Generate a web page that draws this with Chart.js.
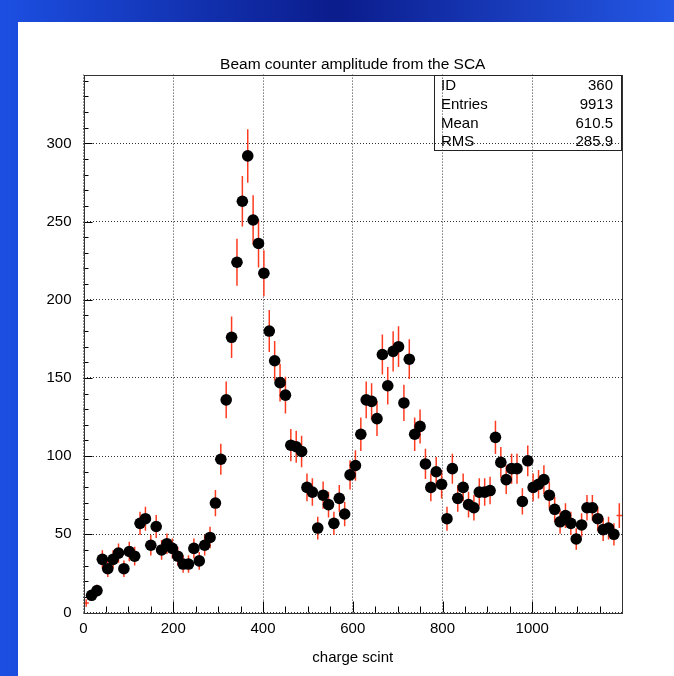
<!DOCTYPE html>
<html>
<head>
<meta charset="utf-8">
<script src="https://cdn.jsdelivr.net/npm/chart.js@4.4.1/dist/chart.umd.min.js"></script>
<style>
html,body{margin:0;padding:0;width:674px;height:676px;overflow:hidden;
  background:linear-gradient(to right,#1c4fe2 0%,#0b1c8c 50%,#2458e6 100%);}
#panel{position:absolute;left:18px;top:22px;width:656px;height:654px;background:#ffffff;}
canvas{display:block;}
</style>
</head>
<body>
<div id="panel"><canvas id="c" width="656" height="654"></canvas></div>
<script>
// ---- data (histogram id 360, 100 bins of width 12 over 0..1200) ----
const binCenters = [
  6,18,30,42,54,66,78,90,102,114,
  126,138,150,162,174,186,198,210,222,234,
  246,258,270,282,294,306,318,330,342,354,
  366,378,390,402,414,426,438,450,462,474,
  486,498,510,522,534,546,558,570,582,594,
  606,618,630,642,654,666,678,690,702,714,
  726,738,750,762,774,786,798,810,822,834,
  846,858,870,882,894,906,918,930,942,954,
  966,978,990,1002,1014,1026,1038,1050,1062,1074,
  1086,1098,1110,1122,1134,1146,1158,1170,1182,1194
];
const counts = [
  6,11,14,34,28,34,38,28,39,36,
  57,60,43,55,40,44,41,36,31,31,
  41,33,43,48,70,98,136,176,224,263,
  292,251,236,217,180,161,147,139,107,106,
  103,80,77,54,75,69,57,73,63,88,
  94,114,136,135,124,165,145,167,170,134,
  162,114,119,95,80,90,82,60,92,73,
  80,69,67,77,77,78,112,96,85,92,
  92,71,97,80,82,85,75,66,58,62,
  57,47,56,67,67,60,53,54,50,62
];
const errors = [
  2.4,3.3,3.7,5.8,5.3,5.8,6.2,5.3,6.2,6.0,
  7.5,7.7,6.6,7.4,6.3,6.6,6.4,6.0,5.6,5.6,
  6.4,5.7,6.6,6.9,8.4,9.9,11.7,13.3,15.0,16.2,
  17.1,15.8,15.4,14.7,13.4,12.7,12.1,11.8,10.3,10.3,
  10.1,8.9,8.8,7.3,8.7,8.3,7.5,8.5,7.9,9.4,
  9.7,10.7,11.7,11.6,11.1,12.8,12.0,12.9,13.0,11.6,
  12.7,10.7,10.9,9.7,8.9,9.5,9.1,7.7,9.6,8.5,
  8.9,8.3,8.2,8.8,8.8,8.8,10.6,9.8,9.2,9.6,
  9.6,8.4,9.8,8.9,9.1,9.2,8.7,8.1,7.6,7.9,
  7.5,6.9,7.5,8.2,8.2,7.7,7.3,7.3,7.1,7.9
];
const binHalfWidth = 6;
const xTickValues = [0,200,400,600,800,1000];
const yTickValues = [0,50,100,150,200,250,300];
const titleText = 'Beam counter amplitude from the SCA';
const xAxisTitle = 'charge scint';
const statLabels = ['ID','Entries','Mean','RMS'];
const statValues = ['360','9913','610.5','285.9'];

const FONT = 'Liberation Sans, Arial, Helvetica, sans-serif';

// error bars drawn behind the markers
const errorBarPlugin = {
  id: 'errorBars',
  beforeDatasetsDraw(chart) {
    const {ctx, chartArea: a, scales: {x, y}} = chart;
    ctx.save();
    ctx.beginPath();
    ctx.rect(a.left, a.top, a.right - a.left, a.bottom - a.top);
    ctx.clip();
    ctx.strokeStyle = '#ff3b1f';
    ctx.lineWidth = 1.5;
    for (let i = 0; i < counts.length; i++) {
      const px = x.getPixelForValue(binCenters[i]);
      const py = y.getPixelForValue(counts[i]);
      ctx.beginPath();
      ctx.moveTo(px, y.getPixelForValue(counts[i] - errors[i]));
      ctx.lineTo(px, y.getPixelForValue(counts[i] + errors[i]));
      ctx.moveTo(x.getPixelForValue(binCenters[i] - binHalfWidth), py);
      ctx.lineTo(x.getPixelForValue(binCenters[i] + binHalfWidth), py);
      ctx.stroke();
    }
    ctx.restore();
  }
};

// frame, minor/major ticks, stats box
const framePlugin = {
  id: 'frame',
  afterDraw(chart) {
    const {ctx, chartArea: a, scales: {x, y}} = chart;
    ctx.save();
    ctx.strokeStyle = '#000';
    ctx.lineWidth = 1;
    ctx.beginPath();
    for (let v = 0; v <= y.max; v += 10) {
      const py = Math.round(y.getPixelForValue(v)) + 0.5;
      const len = (v % 50 === 0) ? 9 : 5;
      ctx.moveTo(a.left, py); ctx.lineTo(a.left + len, py);
    }
    for (let v = 0; v <= x.max; v += 50) {
      const px = Math.round(x.getPixelForValue(v)) + 0.5;
      const len = (v % 200 === 0) ? 11 : 6;
      ctx.moveTo(px, a.bottom); ctx.lineTo(px, a.bottom - len);
    }
    ctx.stroke();
    ctx.strokeStyle = '#333';
    ctx.strokeRect(Math.round(a.left) + 0.5, Math.round(a.top) + 0.5,
                   Math.round(a.right - a.left) - 1, Math.round(a.bottom - a.top));
    // stats box
    const bx = 416.5, by = Math.round(a.top) + 0.5, bw = Math.round(a.right) - 417, bh = 75;
    ctx.strokeStyle = '#222';
    ctx.strokeRect(bx, by, bw, bh);
    ctx.fillStyle = '#000';
    ctx.font = '15px ' + FONT;
    ctx.textBaseline = 'middle';
    const rows = [64, 82.5, 102, 120];
    for (let i = 0; i < statLabels.length; i++) {
      ctx.textAlign = 'left';
      ctx.fillText(statLabels[i], 423, rows[i]);
      ctx.textAlign = 'right';
      ctx.fillText(statValues[i], 595, rows[i]);
    }
    ctx.restore();
  }
};

const points = binCenters.map((cx, i) => ({x: cx, y: counts[i]}));

new Chart(document.getElementById('c').getContext('2d'), {
  type: 'scatter',
  data: {
    datasets: [{
      data: points,
      backgroundColor: '#000',
      borderWidth: 0,
      pointBorderWidth: 0,
      pointBackgroundColor: '#000',
      pointRadius: (c) => (c.raw && (c.raw.x < 10 || c.raw.x > 1190)) ? 0 : 5.8,
      showLine: false
    }]
  },
  options: {
    responsive: false,
    animation: false,
    events: [],
    layout: {padding: {left: 0, top: 0, right: 52, bottom: 0}},
    plugins: {
      legend: {display: false},
      tooltip: {enabled: false},
      title: {
        display: true, text: titleText, color: '#000', fullSize: false,
        font: {family: FONT, size: 15.5, weight: 'normal', lineHeight: 1.2},
        padding: {top: 33, bottom: 1}
      }
    },
    scales: {
      x: {
        type: 'linear', min: 0, max: 1200,
        afterFit(s) { s.height = 63.5; },
        afterBuildTicks(s) { s.ticks = xTickValues.map(v => ({value: v})); },
        ticks: {color: '#000', font: {family: FONT, size: 15}, padding: 7, maxRotation: 0, autoSkip: false,
                callback: (v) => String(v)},
        grid: {color: '#333', lineWidth: 1, drawTicks: false},
        border: {display: false, dash: [1, 2]},
        title: {display: true, text: xAxisTitle, color: '#000',
                font: {family: FONT, size: 15, lineHeight: 1.2}, padding: {top: 0, bottom: 9}}
      },
      y: {
        type: 'linear', min: 0, max: 344,
        afterFit(s) { s.width = 65.5; },
        afterBuildTicks(s) { s.ticks = yTickValues.map(v => ({value: v})); },
        ticks: {color: '#000', font: {family: FONT, size: 15}, padding: 12, autoSkip: false,
                callback: (v) => String(v)},
        grid: {color: '#333', lineWidth: 1, drawTicks: false},
        border: {display: false, dash: [1, 2]}
      }
    }
  },
  plugins: [errorBarPlugin, framePlugin]
});
</script>
</body>
</html>
